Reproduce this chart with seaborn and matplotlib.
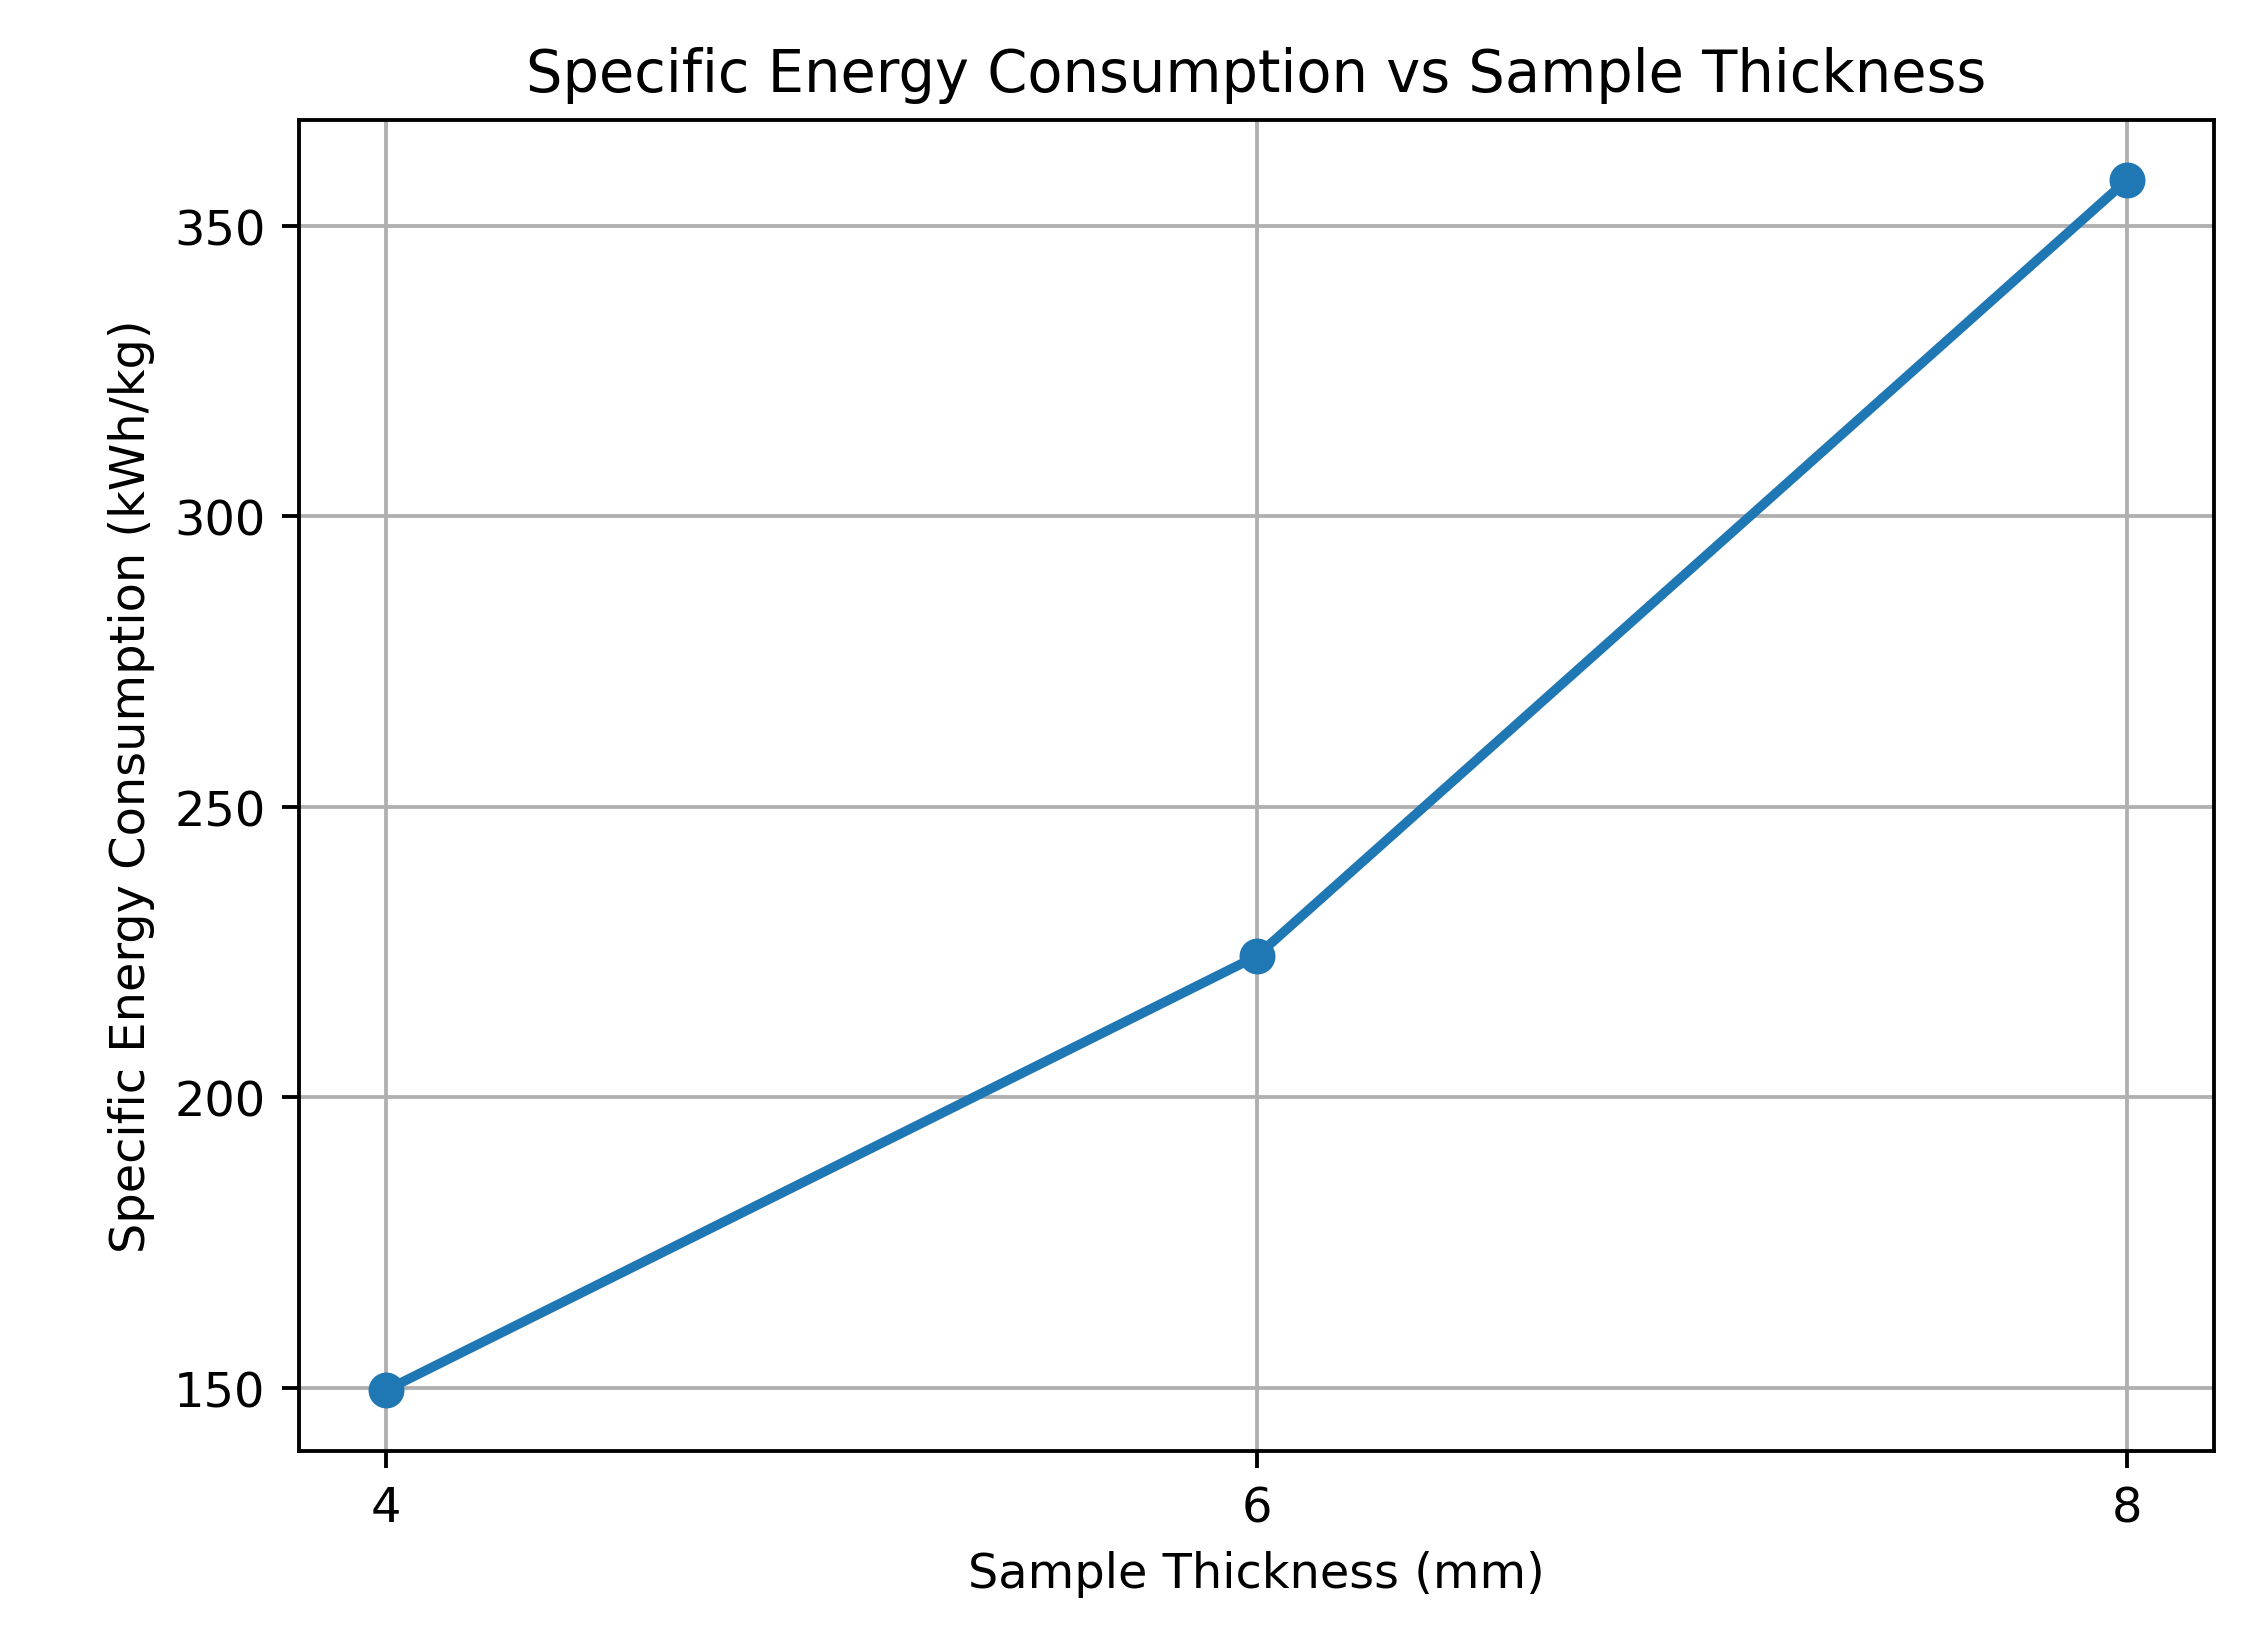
import matplotlib
matplotlib.use("Agg")
import matplotlib.pyplot as plt
import seaborn as sns
import pandas as pd

# values
thickness_mm = [4, 6, 8]
sec_kwh_per_kg = [149.6, 224.3, 357.9]

df = pd.DataFrame({'Sample Thickness (mm)': thickness_mm,
                   'Specific Energy Consumption (kWh/kg)': sec_kwh_per_kg})

plt.rcParams['font.family'] = ['DejaVu Sans']

fig, ax = plt.subplots(figsize=(2252 / 345, 1630 / 345), dpi=345)
fig.subplots_adjust(left=0.1328, right=0.9831, bottom=0.1094, top=0.926)

sns.lineplot(data=df, x='Sample Thickness (mm)', y='Specific Energy Consumption (kWh/kg)',
             marker='o', markersize=7.5, markeredgewidth=0, linewidth=2,
             color='#1f77b4', ax=ax)

ax.set_xticks(thickness_mm)
ax.grid(True)
ax.set_xlabel('Sample Thickness (mm)')
ax.set_ylabel('Specific Energy Consumption (kWh/kg)')
ax.set_title('Specific Energy Consumption vs Sample Thickness')

fig.savefig('out.png', dpi=345)
